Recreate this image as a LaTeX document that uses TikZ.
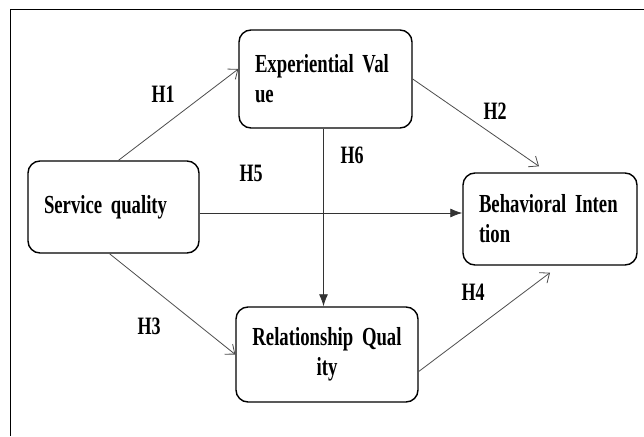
\documentclass[tikz,border=0pt]{standalone}
\usepackage{fontspec}
\setmainfont{Liberation Serif}[FakeStretch=0.72]
\usetikzlibrary{arrows.meta}
\newcommand{\boxfont}{\fontsize{26}{30}\selectfont\bfseries\fontdimen2\font=4.5pt\relax}
\begin{document}
\begin{tikzpicture}[x=1pt,y=-1pt,
    box/.style={draw,line width=1.4pt,rounded corners=12pt,align=left,
      inner xsep=16pt,inner ysep=0pt,font=\boxfont},
    hyp/.style={font=\fontsize{25}{28}\selectfont\bfseries},
    openarrow/.style={draw=black!70,line width=0.8pt,-{Straight Barb[length=8pt,width=13pt]}},
    fillarrow/.style={draw=black!80,line width=0.8pt,-{Latex[length=12pt,width=9pt]}}]
  \useasboundingbox (0,0) rectangle (644,436);
  \draw[line width=1pt] (10,436) -- (10,9.5) -- (644,9.5);
  % constructs
  \node[box,text width=141pt,minimum height=98pt] (ev) at (325.5,79) {Experiential Val\\ue};
  \node[box,text width=139pt,minimum height=92pt] (sq) at (113.5,207) {Service quality};
  \node[box,text width=142pt,minimum height=92pt] (bi) at (550,219) {Behavioral Inten\\tion};
  \node[box,text width=150pt,minimum height=95pt,align=center] (rq) at (327,354.5) {Relationship Qual\\ity};
  % hypotheses
  \draw
    (163,94) node[hyp] (h1){H1}
    (495,111) node[hyp] (h2){H2}
    (149,326) node[hyp] (h3){H3}
    (473,292) node[hyp] (h4){H4}
    (251,173) node[hyp] (h5){H5}
    (352,155) node[hyp] (h6){H6};
  \begin{scope}[openarrow]
    \draw ([xshift=5pt]sq.north) to ([yshift=10pt]ev.west);
    \draw (ev.east) to ([xshift=-11pt,yshift=6pt]bi.north);
    \draw ([xshift=-4pt]sq.south) to (rq.west);
    \draw ([yshift=-17pt]rq.east) to ([yshift=-7pt]bi.south);
  \end{scope}
  \begin{scope}[fillarrow]
    \draw ([yshift=-6pt]sq.east) to ([yshift=6pt]bi.west);
    \draw ([xshift=-2pt]ev.south) to ([xshift=-2pt]ev.south |- rq.north);
  \end{scope}
\end{tikzpicture}
\end{document}
